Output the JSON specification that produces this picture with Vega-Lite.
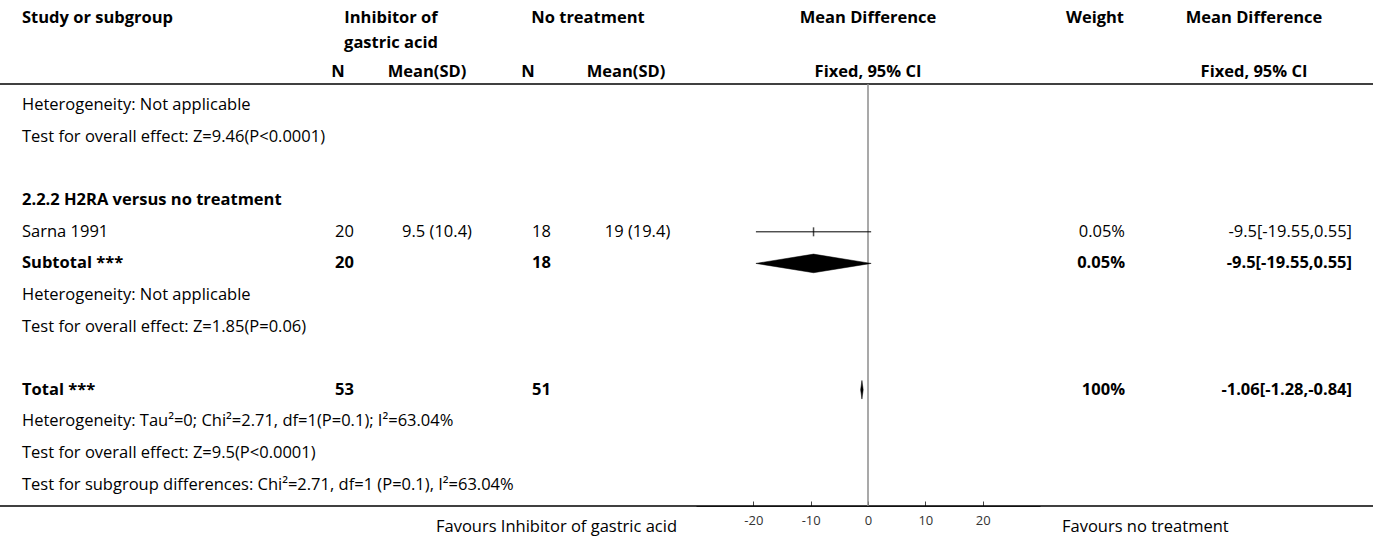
{
  "$schema": "https://vega.github.io/schema/vega-lite/v6.json",
  "description": "Forest plot: inhibitor of gastric acid versus no treatment, mean difference (fixed effect, 95% CI).",
  "width": 1373,
  "height": 537,
  "padding": 0,
  "autosize": {"type": "none"},
  "background": "white",
  "config": {
    "view": {"stroke": null},
    "font": "Open Sans",
    "text": {"font": "Open Sans", "fontSize": 16.5, "color": "#000000", "baseline": "middle"}
  },
  "datasets": {
    "header": [
      {"line": 1, "c": 1, "text": "Study or subgroup"},
      {"line": 1, "c": 3, "text": "Inhibitor of"},
      {"line": 2, "c": 3, "text": "gastric acid"},
      {"line": 1, "c": 6, "text": "No treatment"},
      {"line": 1, "c": 8, "text": "Mean Difference"},
      {"line": 1, "c": 9, "text": "Weight"},
      {"line": 1, "c": 10, "text": "Mean Difference"},
      {"line": 3, "c": 2, "text": "N"},
      {"line": 3, "c": 4, "text": "Mean(SD)"},
      {"line": 3, "c": 5, "text": "N"},
      {"line": 3, "c": 7, "text": "Mean(SD)"},
      {"line": 3, "c": 8, "text": "Fixed, 95% CI"},
      {"line": 3, "c": 10, "text": "Fixed, 95% CI"},
      {"line": 6, "c": 11, "text": "Favours Inhibitor of gastric acid"},
      {"line": 6, "c": 12, "text": "Favours no treatment"}
    ],
    "rules": [
      {"line": 4},
      {"line": 5}
    ],
    "cells": [
      {"row": "het1", "c": 1, "text": "Heterogeneity: Not applicable"},
      {"row": "test1", "c": 1, "text": "Test for overall effect: Z=9.46(P<0.0001)"},
      {"row": "sg2", "c": 1, "text": "2.2.2 H2RA versus no treatment"},
      {"row": "sarna", "c": 1, "text": "Sarna 1991"},
      {"row": "sarna", "c": 2, "text": "20"},
      {"row": "sarna", "c": 3, "text": "9.5 (10.4)"},
      {"row": "sarna", "c": 4, "text": "18"},
      {"row": "sarna", "c": 5, "text": "19 (19.4)"},
      {"row": "sarna", "c": 6, "text": "0.05%"},
      {"row": "sarna", "c": 7, "text": "-9.5[-19.55,0.55]"},
      {"row": "subtotal", "c": 1, "text": "Subtotal ***"},
      {"row": "subtotal", "c": 2, "text": "20"},
      {"row": "subtotal", "c": 4, "text": "18"},
      {"row": "subtotal", "c": 6, "text": "0.05%"},
      {"row": "subtotal", "c": 7, "text": "-9.5[-19.55,0.55]"},
      {"row": "het2", "c": 1, "text": "Heterogeneity: Not applicable"},
      {"row": "test2", "c": 1, "text": "Test for overall effect: Z=1.85(P=0.06)"},
      {"row": "total", "c": 1, "text": "Total ***"},
      {"row": "total", "c": 2, "text": "53"},
      {"row": "total", "c": 4, "text": "51"},
      {"row": "total", "c": 6, "text": "100%"},
      {"row": "total", "c": 7, "text": "-1.06[-1.28,-0.84]"},
      {"row": "het3", "c": 1, "text": "Heterogeneity: Tau²=0; Chi²=2.71, df=1(P=0.1); I²=63.04%"},
      {"row": "test3", "c": 1, "text": "Test for overall effect: Z=9.5(P<0.0001)"},
      {"row": "subgrp", "c": 1, "text": "Test for subgroup differences: Chi²=2.71, df=1 (P=0.1), I²=63.04%"}
    ],
    "studies": [
      {"row": "sarna", "md": -9.5, "lo": -19.55, "hi": 0.55}
    ],
    "diamonds": [
      {"row": "subtotal", "k": 1, "md": -19.55, "v": "mid"},
      {"row": "subtotal", "k": 2, "md": -9.5, "v": "top"},
      {"row": "subtotal", "k": 3, "md": 0.55, "v": "mid"},
      {"row": "subtotal", "k": 4, "md": -9.5, "v": "bottom"},
      {"row": "total", "k": 1, "md": -1.28, "v": "mid"},
      {"row": "total", "k": 2, "md": -1.06, "v": "top"},
      {"row": "total", "k": 3, "md": -0.84, "v": "mid"},
      {"row": "total", "k": 4, "md": -1.06, "v": "bottom"}
    ]
  },
  "layer": [
    {
      "description": "Header title column (left aligned)",
      "data": {"name": "header"},
      "transform": [{"filter": "datum.c == 1"}],
      "mark": {"type": "text", "align": "left", "fontWeight": "bold"},
      "encoding": {
        "x": {"field": "c", "type": "quantitative", "axis": null,
              "scale": {"domain": [1,2,3,4,5,6,7,8,9,10,11,12], "range": [22,338,391,427,528,588,626,868,1095,1254,677,1062], "nice": false, "zero": false}},
        "y": {"field": "line", "type": "quantitative", "axis": null,
              "scale": {"domain": [1,2,3,4,5,6], "range": [18,43,72,84,506,527], "nice": false, "zero": false}},
        "text": {"field": "text"}
      }
    },
    {
      "description": "Centred header labels",
      "data": {"name": "header"},
      "transform": [{"filter": "datum.c >= 2 && datum.c <= 10"}],
      "mark": {"type": "text", "align": "center", "fontWeight": "bold"},
      "encoding": {
        "x": {"field": "c", "type": "quantitative", "axis": null,
              "scale": {"domain": [1,2,3,4,5,6,7,8,9,10,11,12], "range": [22,338,391,427,528,588,626,868,1095,1254,677,1062], "nice": false, "zero": false}},
        "y": {"field": "line", "type": "quantitative", "axis": null,
              "scale": {"domain": [1,2,3,4,5,6], "range": [18,43,72,84,506,527], "nice": false, "zero": false}},
        "text": {"field": "text"}
      }
    },
    {
      "description": "Left favours label",
      "data": {"name": "header"},
      "transform": [{"filter": "datum.c == 11"}],
      "mark": {"type": "text", "align": "right"},
      "encoding": {
        "x": {"field": "c", "type": "quantitative", "axis": null,
              "scale": {"domain": [1,2,3,4,5,6,7,8,9,10,11,12], "range": [22,338,391,427,528,588,626,868,1095,1254,677,1062], "nice": false, "zero": false}},
        "y": {"field": "line", "type": "quantitative", "axis": null,
              "scale": {"domain": [1,2,3,4,5,6], "range": [18,43,72,84,506,527], "nice": false, "zero": false}},
        "text": {"field": "text"}
      }
    },
    {
      "description": "Right favours label",
      "data": {"name": "header"},
      "transform": [{"filter": "datum.c == 12"}],
      "mark": {"type": "text", "align": "left"},
      "encoding": {
        "x": {"field": "c", "type": "quantitative", "axis": null,
              "scale": {"domain": [1,2,3,4,5,6,7,8,9,10,11,12], "range": [22,338,391,427,528,588,626,868,1095,1254,677,1062], "nice": false, "zero": false}},
        "y": {"field": "line", "type": "quantitative", "axis": null,
              "scale": {"domain": [1,2,3,4,5,6], "range": [18,43,72,84,506,527], "nice": false, "zero": false}},
        "text": {"field": "text"}
      }
    },
    {
      "description": "Horizontal rules above and below the table body",
      "data": {"name": "rules"},
      "mark": {"type": "rule", "color": "#000000", "strokeWidth": 1.6},
      "encoding": {
        "y": {"field": "line", "type": "quantitative", "axis": null,
              "scale": {"domain": [1,2,3,4,5,6], "range": [18,43,72,84,506,527], "nice": false, "zero": false}}
      }
    },
    {
      "description": "Study / subgroup labels, regular",
      "data": {"name": "cells"},
      "transform": [{"filter": "datum.c == 1 && indexof(['sg2','subtotal','total'], datum.row) < 0"}],
      "mark": {"type": "text", "align": "left"},
      "encoding": {
        "x": {"field": "c", "type": "quantitative", "axis": null,
              "scale": {"domain": [1,2,3,4,5,6,7], "range": [22,344.5,437,541.5,637.5,1125,1352], "nice": false, "zero": false}},
        "y": {"field": "row", "type": "nominal", "axis": null,
              "scale": {"type": "band", "domain": ["het1","test1","blank1","sg2","sarna","subtotal","het2","test2","blank2","total","het3","test3","subgrp"], "range": [84, 506], "paddingInner": 0, "paddingOuter": 0.18}},
        "text": {"field": "text"}
      }
    },
    {
      "description": "Study / subgroup labels, bold",
      "data": {"name": "cells"},
      "transform": [{"filter": "datum.c == 1 && indexof(['sg2','subtotal','total'], datum.row) >= 0"}],
      "mark": {"type": "text", "align": "left", "fontWeight": "bold"},
      "encoding": {
        "x": {"field": "c", "type": "quantitative", "axis": null,
              "scale": {"domain": [1,2,3,4,5,6,7], "range": [22,344.5,437,541.5,637.5,1125,1352], "nice": false, "zero": false}},
        "y": {"field": "row", "type": "nominal", "axis": null,
              "scale": {"type": "band", "domain": ["het1","test1","blank1","sg2","sarna","subtotal","het2","test2","blank2","total","het3","test3","subgrp"], "range": [84, 506], "paddingInner": 0, "paddingOuter": 0.18}},
        "text": {"field": "text"}
      }
    },
    {
      "description": "N and Mean(SD) columns, regular",
      "data": {"name": "cells"},
      "transform": [{"filter": "datum.c >= 2 && datum.c <= 5 && indexof(['sg2','subtotal','total'], datum.row) < 0"}],
      "mark": {"type": "text", "align": "center"},
      "encoding": {
        "x": {"field": "c", "type": "quantitative", "axis": null,
              "scale": {"domain": [1,2,3,4,5,6,7], "range": [22,344.5,437,541.5,637.5,1125,1352], "nice": false, "zero": false}},
        "y": {"field": "row", "type": "nominal", "axis": null,
              "scale": {"type": "band", "domain": ["het1","test1","blank1","sg2","sarna","subtotal","het2","test2","blank2","total","het3","test3","subgrp"], "range": [84, 506], "paddingInner": 0, "paddingOuter": 0.18}},
        "text": {"field": "text"}
      }
    },
    {
      "description": "N totals, bold",
      "data": {"name": "cells"},
      "transform": [{"filter": "datum.c >= 2 && datum.c <= 5 && indexof(['sg2','subtotal','total'], datum.row) >= 0"}],
      "mark": {"type": "text", "align": "center", "fontWeight": "bold"},
      "encoding": {
        "x": {"field": "c", "type": "quantitative", "axis": null,
              "scale": {"domain": [1,2,3,4,5,6,7], "range": [22,344.5,437,541.5,637.5,1125,1352], "nice": false, "zero": false}},
        "y": {"field": "row", "type": "nominal", "axis": null,
              "scale": {"type": "band", "domain": ["het1","test1","blank1","sg2","sarna","subtotal","het2","test2","blank2","total","het3","test3","subgrp"], "range": [84, 506], "paddingInner": 0, "paddingOuter": 0.18}},
        "text": {"field": "text"}
      }
    },
    {
      "description": "Weight and effect columns, regular",
      "data": {"name": "cells"},
      "transform": [{"filter": "datum.c >= 6 && indexof(['sg2','subtotal','total'], datum.row) < 0"}],
      "mark": {"type": "text", "align": "right"},
      "encoding": {
        "x": {"field": "c", "type": "quantitative", "axis": null,
              "scale": {"domain": [1,2,3,4,5,6,7], "range": [22,344.5,437,541.5,637.5,1125,1352], "nice": false, "zero": false}},
        "y": {"field": "row", "type": "nominal", "axis": null,
              "scale": {"type": "band", "domain": ["het1","test1","blank1","sg2","sarna","subtotal","het2","test2","blank2","total","het3","test3","subgrp"], "range": [84, 506], "paddingInner": 0, "paddingOuter": 0.18}},
        "text": {"field": "text"}
      }
    },
    {
      "description": "Weight and effect columns, bold",
      "data": {"name": "cells"},
      "transform": [{"filter": "datum.c >= 6 && indexof(['sg2','subtotal','total'], datum.row) >= 0"}],
      "mark": {"type": "text", "align": "right", "fontWeight": "bold"},
      "encoding": {
        "x": {"field": "c", "type": "quantitative", "axis": null,
              "scale": {"domain": [1,2,3,4,5,6,7], "range": [22,344.5,437,541.5,637.5,1125,1352], "nice": false, "zero": false}},
        "y": {"field": "row", "type": "nominal", "axis": null,
              "scale": {"type": "band", "domain": ["het1","test1","blank1","sg2","sarna","subtotal","het2","test2","blank2","total","het3","test3","subgrp"], "range": [84, 506], "paddingInner": 0, "paddingOuter": 0.18}},
        "text": {"field": "text"}
      }
    },
    {
      "description": "Line of no effect, with the effect-size axis",
      "data": {"name": "rules"},
      "transform": [{"filter": "datum.line == 4"}],
      "mark": {"type": "rule", "color": "#8c8c8c", "strokeWidth": 1.5},
      "encoding": {
        "x": {"datum": 0, "type": "quantitative",
              "scale": {"domain": [-30, 30], "range": [696, 1040], "nice": false, "zero": false},
              "axis": {"orient": "bottom", "offset": -31, "values": [-20, -10, 0, 10, 20], "title": null, "grid": false,
                       "labelExpr": "'' + datum.value",
                       "tickSize": -5, "labelPadding": 13, "labelFontSize": 13, "labelColor": "#333333", "labelFont": "Open Sans",
                       "domainColor": "#444444", "tickColor": "#444444", "domainWidth": 1, "tickWidth": 1}},
        "y": {"field": "line", "type": "quantitative", "axis": null,
              "scale": {"domain": [1,2,3,4,5,6], "range": [18,43,72,84,506,527], "nice": false, "zero": false}},
        "y2": {"datum": 5}
      }
    },
    {
      "description": "Study confidence interval",
      "data": {"name": "studies"},
      "mark": {"type": "rule", "color": "#000000", "strokeWidth": 1},
      "encoding": {
        "x": {"field": "lo", "type": "quantitative", "axis": null,
              "scale": {"domain": [-30, 30], "range": [696, 1040], "nice": false, "zero": false}},
        "x2": {"field": "hi"},
        "y": {"field": "row", "type": "nominal", "axis": null,
              "scale": {"type": "band", "domain": ["het1","test1","blank1","sg2","sarna","subtotal","het2","test2","blank2","total","het3","test3","subgrp"], "range": [84, 506], "paddingInner": 0, "paddingOuter": 0.18}}
      }
    },
    {
      "description": "Study point estimate",
      "data": {"name": "studies"},
      "mark": {"type": "tick", "orient": "vertical", "color": "#000000", "size": 9, "thickness": 1.5},
      "encoding": {
        "x": {"field": "md", "type": "quantitative", "axis": null,
              "scale": {"domain": [-30, 30], "range": [696, 1040], "nice": false, "zero": false}},
        "y": {"field": "row", "type": "nominal", "axis": null,
              "scale": {"type": "band", "domain": ["het1","test1","blank1","sg2","sarna","subtotal","het2","test2","blank2","total","het3","test3","subgrp"], "range": [84, 506], "paddingInner": 0, "paddingOuter": 0.18}}
      }
    },
    {
      "description": "Pooled estimates as diamonds",
      "data": {"name": "diamonds"},
      "mark": {"type": "line", "interpolate": "linear-closed", "filled": true, "fill": "#000000", "stroke": "#000000", "strokeWidth": 0.5},
      "encoding": {
        "x": {"field": "md", "type": "quantitative", "axis": null,
              "scale": {"domain": [-30, 30], "range": [696, 1040], "nice": false, "zero": false}},
        "y": {"field": "row", "type": "nominal", "axis": null,
              "scale": {"type": "band", "domain": ["het1","test1","blank1","sg2","sarna","subtotal","het2","test2","blank2","total","het3","test3","subgrp"], "range": [84, 506], "paddingInner": 0, "paddingOuter": 0.18}},
        "yOffset": {"field": "v", "type": "nominal",
                    "scale": {"type": "point", "domain": ["top", "mid", "bottom"], "range": [6.5, 25.1], "padding": 0}},
        "detail": {"field": "row"},
        "order": {"field": "k", "type": "quantitative"}
      }
    }
  ],
  "resolve": {"scale": {"x": "independent", "y": "independent", "yOffset": "independent"}}
}
